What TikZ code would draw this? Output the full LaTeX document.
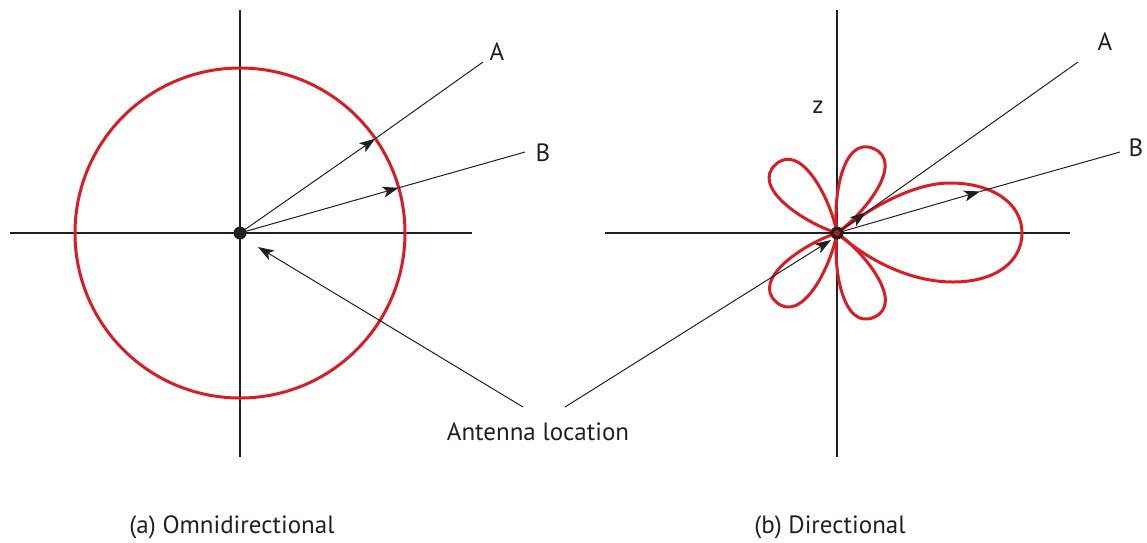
\documentclass[tikz,border=0pt]{standalone}
\usepackage{fontspec}
\setmainfont{PT Sans}
\usetikzlibrary{arrows.meta}
\definecolor{pred}{RGB}{218,28,36}
\definecolor{ink}{RGB}{35,31,32}
\begin{document}
\begin{tikzpicture}[x=1pt,y=-1pt,
  axis/.style={draw=ink,line width=1.5pt},
  ray/.style={draw=ink,line width=1pt},
  tip/.style={-{Stealth[length=16pt,width=11pt,inset=4pt]}},
  lobe/.style={draw=pred,line width=3pt},
  lbl/.style={font=\fontsize{25}{30}\selectfont,text=ink,inner sep=0pt}]
\useasboundingbox (0,0) rectangle (1147,542);
% ---------- (a) omnidirectional ----------
\coordinate (oa) at (240,233);
\coordinate (axL) at (10,233);
\coordinate (axR) at (472,233);
\coordinate (ayT) at (240,10);
\coordinate (ayB) at (240,457);
\draw[axis] (axL) -- (axR);
\draw[axis] (ayT) -- (ayB);
\draw[lobe] (oa) circle[radius=165];
\coordinate (aA) at (375.3,138.6);
\coordinate (aAe) at (483,62);
\coordinate (aB) at (398.7,187.8);
\coordinate (aBe) at (525,152);
\draw[ray,tip] (oa) -- (aA);
\draw[ray] (aA) -- (aAe);
\draw[ray,tip] (oa) -- (aB);
\draw[ray] (aB) -- (aBe);
\fill[ink] (oa) circle[radius=6.5];
\node[lbl] (la) at (497,52) {A};
\node[lbl] (lb) at (543,153) {B};
% ---------- (b) directional ----------
\coordinate (ob) at (837,233);
\coordinate (bxL) at (605,233);
\coordinate (bxR) at (1070,233);
\coordinate (byT) at (837,10);
\coordinate (byB) at (837,457);
\draw[axis] (bxL) -- (bxR);
\draw[axis] (byT) -- (byB);
\node[lbl] (z) at (818,107) {z};
% main lobe
\draw[lobe] (ob) .. controls (869,209) and (912,183) .. (950,183)
  .. controls (992,183) and (1022,203) .. (1022,233)
  .. controls (1022,262) and (995,282) .. (953,282)
  .. controls (912,282) and (870,262) .. (ob);
% side petals
\foreach \ang in {131.8,66.5,-131.4,-66.3}{
  \draw[lobe,shift={(837,233)},rotate=\ang]
    (0,0) .. controls (30,-18) and (92,-34) .. (92,0)
    .. controls (92,34) and (30,18) .. (0,0);
}
\coordinate (bA) at (866,212.5);
\coordinate (bAe) at (1078,62);
\coordinate (bB) at (980,191.5);
\coordinate (bBe) at (1120,152);
\draw[ray,tip] (ob) -- (bA);
\draw[ray] (bA) -- (bAe);
\draw[ray,tip] (ob) -- (bB);
\draw[ray] (bB) -- (bBe);
\fill[ink] (ob) circle[radius=6.5];
\fill[pred,opacity=0.8] (ob) circle[radius=3];
\node[lbl] (lA) at (1105,42) {A};
\node[lbl] (lB) at (1136,148) {B};
% ---------- antenna location ----------
\node[lbl] (ant) at (538,432) {Antenna location};
\coordinate (s1) at (523,407);
\coordinate (t1) at (258,247);
\coordinate (s2) at (565,407);
\coordinate (t2) at (831,240);
\draw[ray,tip] (s1) -- (t1);
\draw[ray,tip] (s2) -- (t2);
% ---------- captions ----------
\node[lbl] (ca) at (232,527) {(a) Omnidirectional};
\node[lbl] (cb) at (830,527) {(b) Directional};
\end{tikzpicture}
\end{document}
